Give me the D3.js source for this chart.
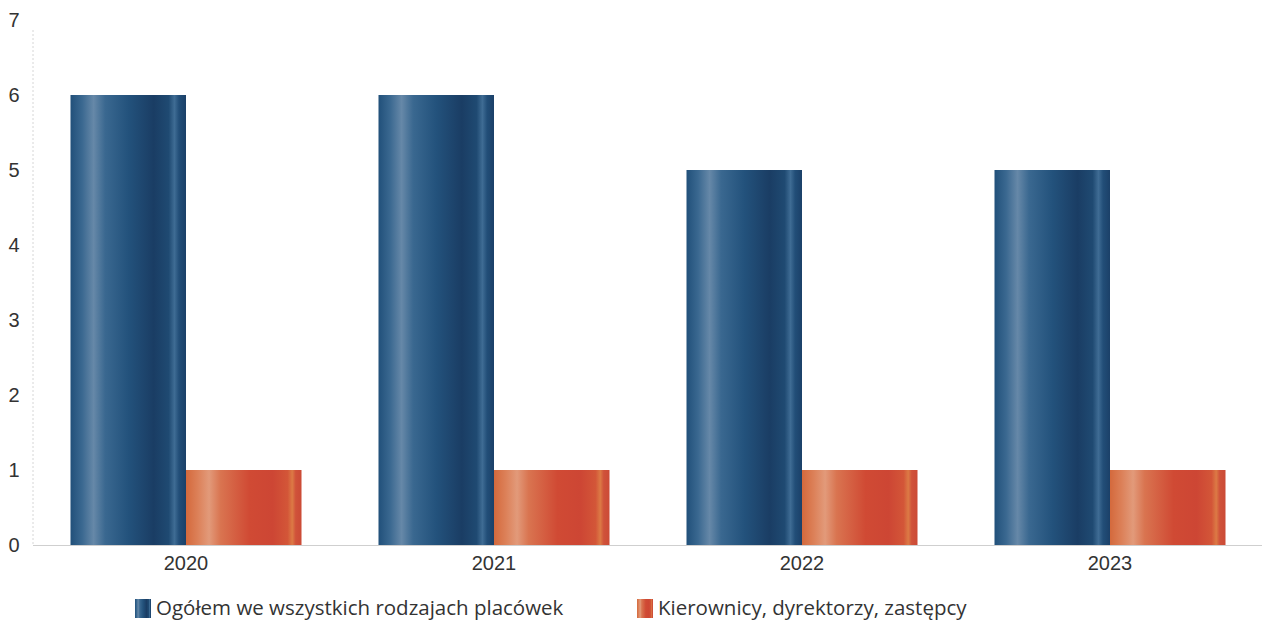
<!DOCTYPE html>
<html><head><meta charset="utf-8">
<script src="https://cdn.jsdelivr.net/npm/d3@7"></script>
<style>body{margin:0;background:#fff;} svg{display:block;font-family:"Open Sans","Noto Sans",sans-serif;}</style>
</head><body>
<svg id="c" width="1264" height="626"></svg>
<script>
const years = ["2020","2021","2022","2023"];
const seriesNames = ["Ogółem we wszystkich rodzajach placówek","Kierownicy, dyrektorzy, zastępcy"];
const totalAll = [6,6,5,5];
const managers = [1,1,1,1];
const yTicks = [0,1,2,3,4,5,6,7];

const svg = d3.select("#c");
const defs = svg.append("defs");
function grad(id, stops){
  const g = defs.append("linearGradient").attr("id",id).attr("x1","0%").attr("x2","100%").attr("y1","0").attr("y2","0");
  stops.forEach(s=>g.append("stop").attr("offset",s[0]).attr("stop-color",s[1]));
}
grad("gBlue",[[0,"#21507a"],[0.1,"#3a6890"],[0.2,"#6688a8"],[0.3,"#3a6890"],[0.5,"#23527c"],[0.72,"#1a3d64"],[0.85,"#1f4a72"],[0.9,"#3f6c94"],[0.94,"#224e78"],[1,"#1b4068"]]);
grad("gOrange",[[0,"#d4693c"],[0.1,"#dc8058"],[0.2,"#e29a7a"],[0.3,"#d97450"],[0.55,"#d04a34"],[0.75,"#cd4634"],[0.88,"#d35638"],[0.92,"#dc7a45"],[0.95,"#d0523a"],[1,"#cb4a36"]]);

const x0 = d3.scaleBand().domain(years).range([32,1264]).paddingInner(0.25).paddingOuter(0.125);
const x1 = d3.scaleBand().domain([0,1]).range([0,x0.bandwidth()]);
const y = d3.scaleLinear().domain([0,7]).range([545,20]);

// y axis line
svg.append("line").attr("x1",33).attr("x2",33).attr("y1",y(7)+10).attr("y2",y(0))
  .attr("stroke","#d6d6d6").attr("stroke-dasharray","2,2");
const yAxis = svg.append("g").attr("transform","translate(33,0)")
  .call(d3.axisLeft(y).tickValues(yTicks).tickSize(0).tickPadding(12).tickFormat(d3.format("d")));
yAxis.select(".domain").remove();
yAxis.selectAll("text").attr("font-size",20).attr("fill","#333").attr("text-anchor","middle").attr("dx",-7);

const data = [totalAll, managers];
const g = svg.append("g");
years.forEach((yr,i)=>{
  data.forEach((arr,s)=>{
    g.append("rect").attr("x",x0(yr)+x1(s)).attr("width",x1.bandwidth())
      .attr("y",y(arr[i])).attr("height",y(0)-y(arr[i]))
      .attr("fill", s===0?"url(#gBlue)":"url(#gOrange)");
  });
});

// x axis
svg.append("line").attr("x1",33).attr("x2",1262).attr("y1",y(0)+0.5).attr("y2",y(0)+0.5).attr("stroke","#cfcfcf");
const xAxis = svg.append("g").attr("transform",`translate(0,${y(0)})`)
  .call(d3.axisBottom(x0).tickSize(0).tickPadding(11));
xAxis.select(".domain").remove();
xAxis.selectAll("text").attr("font-size",20).attr("fill","#333");

// legend
const legX = [135, 637];
seriesNames.forEach((n,i)=>{
  const lg = svg.append("g").attr("transform",`translate(${legX[i]},599)`);
  lg.append("rect").attr("width",16).attr("height",19).attr("fill", i===0?"url(#gBlue)":"url(#gOrange)");
  lg.append("text").attr("x",21).attr("y",16).attr("font-size",20.5).attr("fill","#333").text(n);
});
</script>
</body></html>
